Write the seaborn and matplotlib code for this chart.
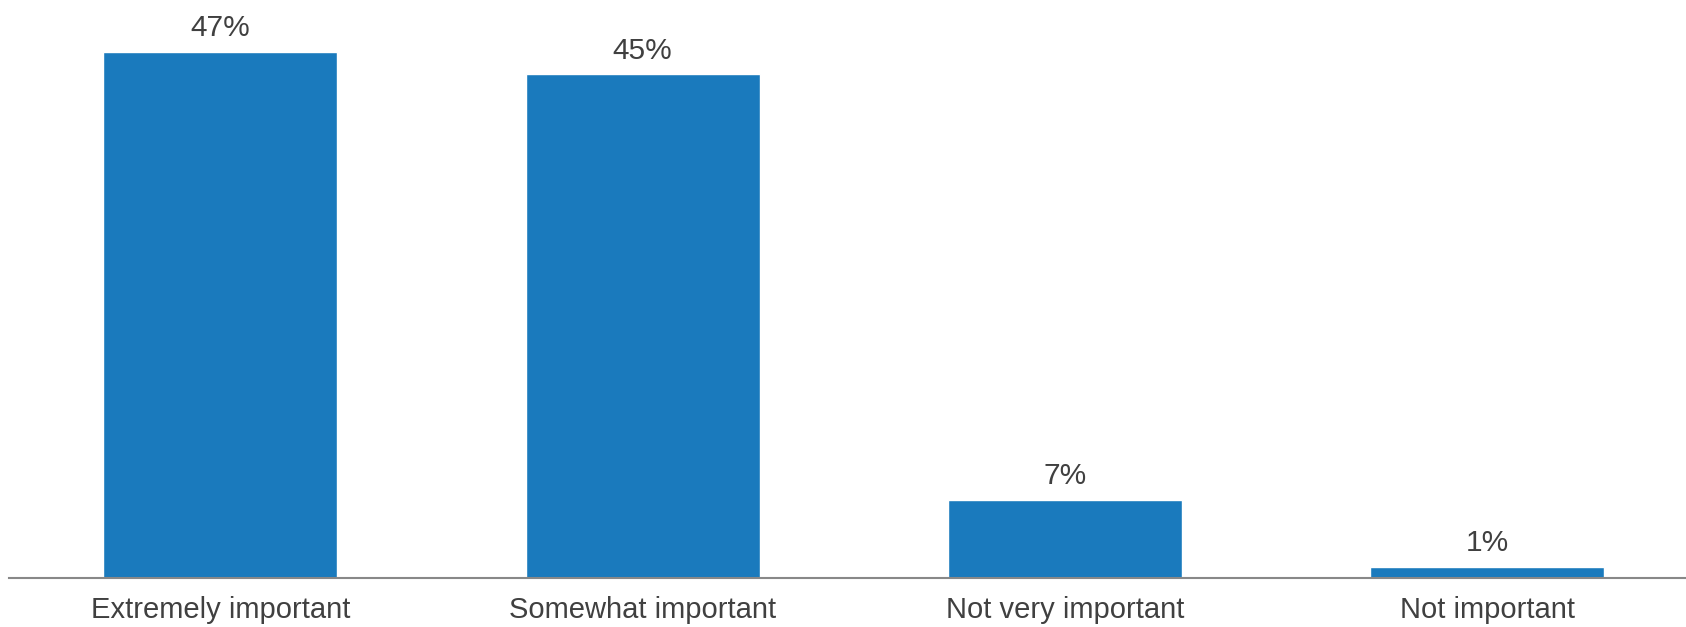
import pandas as pd
import seaborn as sns
import matplotlib.pyplot as plt

categories = ["Extremely important", "Somewhat important", "Not very important", "Not important"]
values = [47, 45, 7, 1]
labels = ["47%", "45%", "7%", "1%"]

df = pd.DataFrame({"category": categories, "value": values})

sns.set_style("white")
plt.rcParams["font.family"] = ["Liberation Sans", "DejaVu Sans"]

fig = plt.figure(figsize=(16.86, 6.27), dpi=100)
ax = fig.add_axes([9 / 1686, 49 / 627, 1 - 9 / 1686, 1 - 49 / 627])

sns.barplot(data=df, x="category", y="value", color="#1a7abd", saturation=1,
            width=0.554, ax=ax)

ax.bar_label(ax.containers[0], labels=labels, padding=7, fontsize=21.5, color="#404040")

ax.set_xlim(-0.5, 3.47)
ax.set_ylim(0, 51.65)
ax.set_xlabel("")
ax.set_ylabel("")
ax.set_yticks([])
ax.tick_params(axis="x", length=0, pad=13, labelsize=21, labelcolor="#404040")
for side in ["top", "right", "left"]:
    ax.spines[side].set_visible(False)
ax.spines["bottom"].set_color("#888888")
ax.spines["bottom"].set_linewidth(1.5)

fig.savefig("out.png", dpi=100)
